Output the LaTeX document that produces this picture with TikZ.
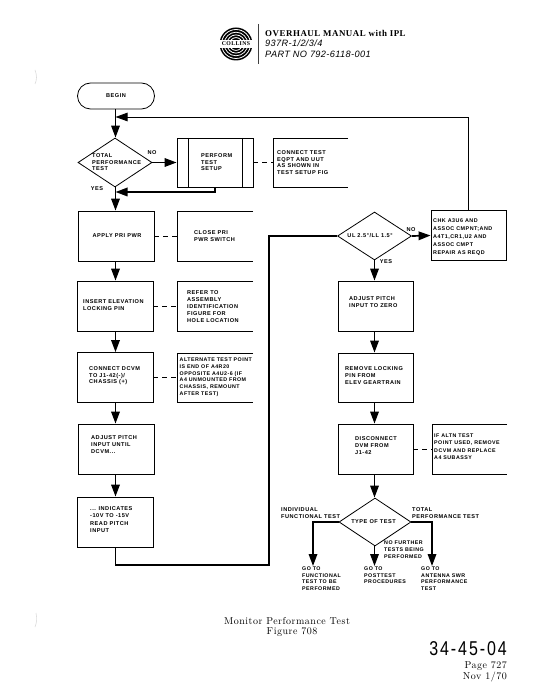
\documentclass[tikz,border=0pt]{standalone}
\usepackage{fontspec}
\setmainfont{Latin Modern Roman}
\newfontfamily\flowfont[LetterSpace=9]{Liberation Sans}
\newfontfamily\bodyfont[LetterSpace=6]{Liberation Serif}
\newfontfamily\obfont[LetterSpace=4]{Liberation Sans}
\newfontfamily\numfont[LetterSpace=12]{Liberation Sans}
\newfontfamily\capfont[LetterSpace=5]{Latin Modern Roman}
\usetikzlibrary{arrows.meta,shapes.geometric}
\tikzset{
 x=1pt,y=-1pt,
 lab/.style={inner sep=0pt,anchor=north west,align=left,font=\flowfont\bfseries\fontsize{5.6}{6.9}\selectfont},
 clab/.style={inner sep=0pt,align=center,font=\flowfont\bfseries\fontsize{5.6}{6.9}\selectfont},
 smalllab/.style={lab,font=\flowfont\bfseries\fontsize{5.3}{6.5}\selectfont},
 flow/.style={line width=1.7pt,-{Triangle[length=12pt,width=8.5pt]}},
 link/.style={line width=1.7pt},
 dashlink/.style={line width=0.8pt,dash pattern=on 5pt off 4pt},
 note/.style={line width=0.8pt},
 fbox/.style={draw,line width=0.8pt,minimum width=76pt,minimum height=50pt,inner sep=0pt},
 dia/.style={draw,diamond,aspect=1.5,line width=0.8pt,inner sep=0pt},
 captext/.style={inner sep=0pt,font=\capfont\fontsize{10}{11}\selectfont},
}
\begin{document}
\begin{tikzpicture}
\useasboundingbox (0,0) rectangle (540,700);
% scan marks
\draw[black!14,line width=0.6pt] (35,70) .. controls (37,75) and (37,80) .. (35,84);
\draw[black!14,line width=0.6pt] (36,613) .. controls (37,618) and (37,622) .. (35,627);
% header
\node[circle,fill=black,minimum size=33pt,inner sep=0pt] (logo) at (236,44) {};
\foreach \r in {14.5,11.8,9.1,6.4,3.7}{\draw[white,line width=0.8pt] (logo.center) circle (\r pt);}
\node[fill=white,minimum width=38pt,minimum height=8pt,inner sep=0pt] (logoband) at (236,44) {};
\node[inner sep=0pt,font=\bodyfont\bfseries\fontsize{5.8}{6}\selectfont] (logotext) at (236,44) {COLLINS};
\coordinate (rulea) at (258,24);\coordinate (ruleb) at (258,64);
\draw[black!75,line width=0.8pt] (rulea) -- (ruleb);
\node[anchor=west,inner sep=0pt,font=\bodyfont\bfseries\fontsize{8.9}{10}\selectfont] (title) at (265,33) {OVERHAUL MANUAL with IPL};
\node[anchor=west,inner sep=0pt,font=\obfont\itshape\fontsize{9.2}{10}\selectfont] (sub1) at (265,43.5) {937R-1/2/3/4};
\node[anchor=west,inner sep=0pt,font=\obfont\itshape\fontsize{9.2}{10}\selectfont] (sub2) at (265,54) {PART NO 792-6118-001};
% left column
\node[draw,line width=0.8pt,rounded corners=13pt,minimum width=77pt,minimum height=26pt,inner sep=0pt,clab] (begin) at (116,96) {BEGIN};
\node[dia,minimum width=74pt,minimum height=49pt] (d1) at (115,162.5) {};
\node[lab] at (92,153) {TOTAL\\PERFORMANCE\\TEST};
\node[clab] at (152,153) {NO};
\node[clab] at (97,189) {YES};
\node[fbox,minimum height=49pt] (setup) at (215,162.5) {};
\draw[line width=0.8pt] (188,138) -- (188,187) (242,138) -- (242,187);
\node[lab] at (201,153) {PERFORM\\TEST\\SETUP};
\node[fbox] (apply) at (116,236) {};
\node[clab] at (117,236) {APPLY PRI PWR};
\node[fbox] (insert) at (115,306) {};
\node[lab] at (83,299) {INSERT ELEVATION\\LOCKING PIN};
\node[fbox] (conn) at (115,377.5) {};
\node[lab] at (89,366) {CONNECT DCVM\\TO J1-42(-)/\\CHASSIS (+)};
\node[fbox] (adjust) at (116,449) {};
\node[lab] at (91,435.5) {ADJUST PITCH\\INPUT UNTIL\\DCVM...};
\node[fbox] (ind) at (115,522) {};
\node[lab,font=\flowfont\bfseries\fontsize{5.6}{7.6}\selectfont] at (90,506) {... INDICATES\\-10V TO -15V\\READ PITCH\\INPUT};
% notes (open on the right)
\coordinate (n1a) at (348,138);\coordinate (n1b) at (273,138);\coordinate (n1c) at (273,187);\coordinate (n1d) at (348,187);
\draw[note] (n1a) -- (n1b) -- (n1c) -- (n1d);
\node[lab] at (277,150) {CONNECT TEST\\EQPT AND UUT\\AS SHOWN IN\\TEST SETUP FIG};
\coordinate (n2a) at (253,211);\coordinate (n2b) at (177,211);\coordinate (n2c) at (177,261);\coordinate (n2d) at (253,261);
\draw[note] (n2a) -- (n2b) -- (n2c) -- (n2d);
\node[lab] at (194,230) {CLOSE PRI\\PWR SWITCH};
\coordinate (n3a) at (253,281);\coordinate (n3b) at (177,281);\coordinate (n3c) at (177,331);\coordinate (n3d) at (253,331);
\draw[note] (n3a) -- (n3b) -- (n3c) -- (n3d);
\node[lab] at (187,290.5) {REFER TO\\ASSEMBLY\\IDENTIFICATION\\FIGURE FOR\\HOLE LOCATION};
\coordinate (n4a) at (253,353);\coordinate (n4b) at (177,353);\coordinate (n4c) at (177,402);\coordinate (n4d) at (253,402);
\draw[note] (n4a) -- (n4b) -- (n4c) -- (n4d);
\node[smalllab,font=\flowfont\bfseries\fontsize{5.3}{6.8}\selectfont] at (179.5,357.5) {ALTERNATE TEST POINT\\IS END OF A4R20\\OPPOSITE A4U2-6 (IF\\A4 UNMOUNTED FROM\\CHASSIS, REMOUNT\\AFTER TEST)};
% right column
\node[dia,minimum width=74pt,minimum height=48pt] (d2) at (374.5,236) {};
\node[clab] at (370,236) {UL 2.5\textdegree/LL 1.5\textdegree};
\node[clab] at (411,230) {NO};
\node[clab] at (386,262) {YES};
\node[fbox,minimum width=75pt,minimum height=49.5pt] (chk) at (468.5,235.5) {};
\node[smalllab,font=\flowfont\bfseries\fontsize{5.4}{8}\selectfont] at (433,218.5) {CHK A3U6 AND\\ASSOC CMPNT;AND\\A4T1,CR1,U2 AND\\ASSOC CMPT\\REPAIR AS REQD};
\node[fbox,minimum width=75pt] (zero) at (375.5,306) {};
\node[lab] at (349,296.5) {ADJUST PITCH\\INPUT TO ZERO};
\node[fbox,minimum width=75pt,minimum height=49pt] (remove) at (375.5,377.5) {};
\node[lab] at (345,366.5) {REMOVE LOCKING\\PIN FROM\\ELEV GEARTRAIN};
\node[fbox,minimum width=75pt] (disc) at (375.5,449) {};
\node[lab] at (355,436.5) {DISCONNECT\\DVM FROM\\J1-42};
\coordinate (n5a) at (507,424);\coordinate (n5b) at (432,424);\coordinate (n5c) at (432,474);\coordinate (n5d) at (507,474);
\draw[note] (n5a) -- (n5b) -- (n5c) -- (n5d);
\node[smalllab,font=\flowfont\bfseries\fontsize{5.3}{7.3}\selectfont] at (434,433.5) {IF ALTN TEST\\POINT USED, REMOVE\\DCVM AND REPLACE\\A4 SUBASSY};
\node[dia,minimum width=72pt,minimum height=48pt] (d3) at (375,522) {};
\node[clab] at (373.5,522) {TYPE OF TEST};
\node[lab] at (281,507.5) {INDIVIDUAL\\FUNCTIONAL TEST};
\node[lab] at (412,507.5) {TOTAL\\PERFORMANCE TEST};
\node[smalllab,font=\flowfont\bfseries\fontsize{5.3}{6.9}\selectfont] at (384,540.5) {NO FURTHER\\TESTS BEING\\PERFORMED};
\coordinate (g1) at (313,566);\coordinate (g2) at (374.5,566);\coordinate (g3) at (432,566);
\node[smalllab,font=\flowfont\bfseries\fontsize{5.3}{6.4}\selectfont] (t1) at (302,567) {GO TO\\FUNCTIONAL\\TEST TO BE\\PERFORMED};
\node[smalllab,font=\flowfont\bfseries\fontsize{5.3}{6.4}\selectfont] (t2) at (364,567) {GO TO\\POSTTEST\\PROCEDURES};
\node[smalllab,font=\flowfont\bfseries\fontsize{5.3}{6.4}\selectfont] (t3) at (421,567) {GO TO\\ANTENNA SWR\\PERFORMANCE\\TEST};
% connectors
\coordinate (loopj) at (115.5,117);
\coordinate (loopc) at (468.5,117);
\coordinate (retj) at (115.5,192);
\coordinate (retc) at (215,192);
\coordinate (bot) at (115.5,565);
\coordinate (botr) at (269,565);
\coordinate (topr) at (269,236);
\draw[flow] (begin.south -| loopj) -- (d1.north -| loopj);
\draw[line width=0.9pt,-{Triangle[length=12pt,width=8.5pt]}] (chk.north) -- (loopc) -- (loopj);
\draw[flow] (d1.east) -- (setup.west);
\draw[flow] (d1.south -| retj) -- (apply.north -| retj);
\draw[flow] (setup.south -| retc) -- (retc) -- (retj);
\draw[flow] (apply.south -| loopj) -- (insert.north -| loopj);
\draw[flow] (insert.south -| loopj) -- (conn.north -| loopj);
\draw[flow] (conn.south -| loopj) -- (adjust.north -| loopj);
\draw[flow] (adjust.south -| loopj) -- (ind.north -| loopj);
\draw[link] (ind.south -| bot) -- (bot) -- (botr) -- (topr) -- (d2.west);
\draw[flow] (d2.east) -- (chk.west);
\draw[flow] (d2.south) -- (zero.north -| d2.south);
\draw[flow] (zero.south -| d2.south) -- (remove.north -| d2.south);
\draw[flow] (remove.south -| d2.south) -- (disc.north -| d2.south);
\draw[flow] (disc.south -| d2.south) -- (d3.north -| d2.south);
\draw[flow] (d3.west) -| (g1);
\draw[flow] (d3.south -| g2) -- (g2);
\draw[flow] (d3.east) -| (g3);
\draw[dashlink] (setup.east) -- (n1b |- setup.east);
\draw[dashlink] (apply.east) -- (n2b |- apply.east);
\draw[dashlink] (insert.east) -- (n3b |- insert.east);
\draw[dashlink] (conn.east) -- (n4b |- conn.east);
\draw[dashlink] (disc.east) -- (n5b |- disc.east);
% caption
\node[captext] (cap1) at (287,621) {Monitor Performance Test};
\node[captext] (cap2) at (292,632) {Figure 708};
\node[captext,anchor=east] (pg) at (507,666) {Page 727};
\node[captext,anchor=east] (dt) at (507,677) {Nov 1/70};
\node[anchor=east,inner sep=0pt,xscale=0.8,font=\numfont\fontsize{20}{21}\selectfont] (num) at (507,649) {34-45-04};
\end{tikzpicture}
\end{document}
